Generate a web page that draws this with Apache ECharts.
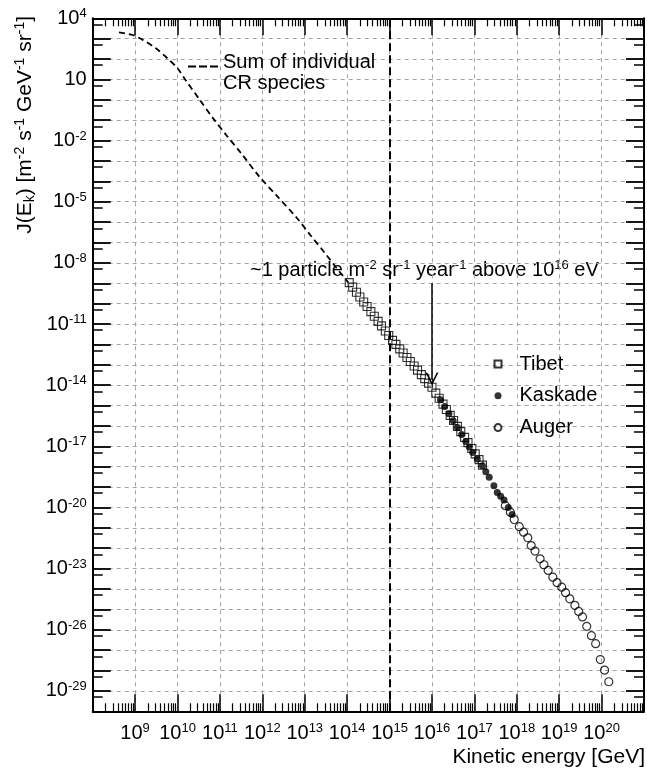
<!DOCTYPE html>
<html><head><meta charset="utf-8">
<script src="https://cdn.jsdelivr.net/npm/echarts/dist/echarts.min.js"></script>
<style>html,body{margin:0;padding:0;background:#fff}#c{width:647px;height:770px}</style>
</head><body><div id="c"></div>
<script>
// ---- data (log10 values) ----
const sumLogE = [8.62, 8.94, 9.18, 9.49, 9.76, 10.0, 10.19, 10.5, 10.84, 11.15, 11.5, 11.93, 12.36, 12.82, 13.13, 13.48, 13.75, 14.03];
const sumLogJ = [3.31, 3.18, 2.94, 2.53, 2.04, 1.55, 0.97, 0.07, -0.91, -1.73, -2.62, -3.77, -4.75, -5.81, -6.63, -7.53, -8.25, -8.97];

const tibetLogE = [14.05, 14.13, 14.22, 14.30, 14.39, 14.47, 14.56, 14.64, 14.73, 14.81, 14.90, 14.98, 15.07, 15.15, 15.24, 15.32, 15.41, 15.49, 15.58, 15.66, 15.75, 15.83, 15.92, 16.00, 16.09, 16.17, 16.26, 16.34, 16.43, 16.51, 16.60, 16.68, 16.77, 16.85, 16.94, 17.02, 17.11, 17.19];
const tibetLogJ = [-8.97, -9.19, -9.44, -9.67, -9.92, -10.14, -10.39, -10.62, -10.87, -11.09, -11.34, -11.56, -11.80, -12.00, -12.22, -12.42, -12.64, -12.84, -13.06, -13.26, -13.48, -13.68, -13.90, -14.10, -14.39, -14.64, -14.93, -15.19, -15.48, -15.73, -16.02, -16.28, -16.56, -16.82, -17.11, -17.37, -17.65, -17.92];

const kaskadeLogE = [16.20, 16.30, 16.40, 16.50, 16.60, 16.70, 16.80, 16.88, 16.96, 17.07, 17.19, 17.27, 17.35, 17.46, 17.54, 17.62, 17.70, 17.80, 17.89];
const kaskadeLogJ = [-14.72, -15.05, -15.40, -15.74, -16.08, -16.42, -16.76, -17.03, -17.30, -17.62, -17.95, -18.25, -18.52, -18.93, -19.26, -19.45, -19.63, -20.00, -20.35];

const augerLogE = [17.73, 17.85, 17.94, 18.06, 18.16, 18.26, 18.34, 18.43, 18.55, 18.64, 18.74, 18.85, 18.95, 19.06, 19.15, 19.25, 19.37, 19.46, 19.55, 19.65, 19.76, 19.86, 19.97, 20.07, 20.17];
const augerLogJ = [-19.91, -20.23, -20.59, -20.94, -21.21, -21.49, -21.87, -22.14, -22.52, -22.81, -23.09, -23.42, -23.69, -23.91, -24.18, -24.48, -24.80, -25.10, -25.37, -25.83, -26.29, -26.68, -27.46, -27.98, -28.55];

// axis ranges / tick labels (decade exponents)
const xRangeExp = [8, 21];
const yRangeExp = [-30, 4];
const xLabelExps = [9, 10, 11, 12, 13, 14, 15, 16, 17, 18, 19, 20];
const yLabelExps = [4, 1, -2, -5, -8, -11, -14, -17, -20, -23, -26, -29];
const kneeE = 1e15;
const arrowE = 1e16, arrowFromJ = 1e-9, arrowToJ = 2e-14;

const names = { sum: 'Sum of individual CR species', tibet: 'Tibet', kaskade: 'Kaskade', auger: 'Auger' };

// ---- build ----
const FONT = 'Liberation Sans';
const toPts = (E, J) => E.map((e, i) => [Math.pow(10, e), Math.pow(10, J[i])]);

const xMinor = [];
for (let n = xRangeExp[0]; n < xRangeExp[1]; n++) for (let k = 2; k <= 9; k++) xMinor.push(n + Math.log10(k));
const yMinor = [];
for (let n = yRangeExp[0]; n < yRangeExp[1]; n++) yMinor.push(n + Math.log10(5));

const rich = {
  b: { fontSize: 20, fontFamily: FONT, color: '#000', lineHeight: 22 },
  s: { fontSize: 13, fontFamily: FONT, color: '#000', lineHeight: 11, verticalAlign: 'top' }
};
const expLabel = e => e === 1 ? '{b|10}' : '{b|10}{s|' + e + '}';

const GRID = { left: 92.7, top: 18.3, width: 558.8, height: 693 };
const black = { color: '#000', width: 2 };

function valAxis(min, max, pos, opts) {
  return Object.assign({
    type: 'value', min: min, max: max, position: pos, gridIndex: 0,
    axisLine: { show: false, onZero: false },
    axisTick: { show: false },
    axisLabel: { show: false },
    splitLine: { show: false }
  }, opts);
}
const xMajorTick = { show: true, inside: true, length: 17, lineStyle: { color: '#000', width: 1.5 } };
const xMinorTick = { show: true, inside: true, length: 8, customValues: xMinor, lineStyle: { color: '#000', width: 1.2 } };
const yMajorTick = { show: true, inside: true, length: 18, lineStyle: { color: '#000', width: 1.8 } };
const yMinorTick = { show: true, inside: true, length: 10, customValues: yMinor, lineStyle: { color: '#000', width: 1.5 } };
const gridLine = { show: true, lineStyle: { color: '#a3a3a3', width: 1, type: [4, 4] } };

const dashIcon = 'path://M0,0 H8 V2 H0 Z M11,0 H19 V2 H11 Z M22,0 H30 V2 H22 Z';

const option = {
  animation: false,
  backgroundColor: '#fff',
  textStyle: { fontFamily: FONT },
  grid: GRID,
  xAxis: [
    { type: 'log', logBase: 10, min: Math.pow(10, xRangeExp[0]), max: Math.pow(10, xRangeExp[1]), show: false, gridIndex: 0 },
    valAxis(xRangeExp[0], xRangeExp[1], 'bottom', {
      interval: 1,
      axisLine: { show: true, onZero: false, lineStyle: black },
      axisTick: xMajorTick, splitLine: gridLine,
      axisLabel: { show: true, margin: 11, rich: rich,
        formatter: v => xLabelExps.indexOf(v) >= 0 ? expLabel(v) : '' }
    }),
    valAxis(xRangeExp[0], xRangeExp[1], 'top', {
      interval: 1, axisLine: { show: true, onZero: false, lineStyle: black }, axisTick: xMajorTick
    }),
    valAxis(xRangeExp[0], xRangeExp[1], 'bottom', { axisTick: xMinorTick }),
    valAxis(xRangeExp[0], xRangeExp[1], 'top', { axisTick: xMinorTick })
  ],
  yAxis: [
    { type: 'log', logBase: 10, min: Math.pow(10, yRangeExp[0]), max: Math.pow(10, yRangeExp[1]), show: false, gridIndex: 0 },
    valAxis(yRangeExp[0], yRangeExp[1], 'left', {
      interval: 1,
      axisLine: { show: true, onZero: false, lineStyle: black },
      axisTick: yMajorTick, splitLine: gridLine,
      axisLabel: { show: true, margin: 6, rich: rich, align: 'right',
        formatter: v => yLabelExps.indexOf(v) >= 0 ? expLabel(v) : '' }
    }),
    valAxis(yRangeExp[0], yRangeExp[1], 'right', {
      interval: 1, axisLine: { show: true, onZero: false, lineStyle: black }, axisTick: yMajorTick
    }),
    valAxis(yRangeExp[0], yRangeExp[1], 'left', { axisTick: yMinorTick }),
    valAxis(yRangeExp[0], yRangeExp[1], 'right', { axisTick: yMinorTick })
  ],
  legend: [
    {
      data: [{ name: names.sum, icon: dashIcon }], left: 188, top: 43.5, padding: 0, selectedMode: false,
      itemWidth: 30, itemHeight: 2,
      formatter: () => '{e| }\n{a|Sum of individual}\n{a|CR species}',
      textStyle: {
        fontSize: 20, fontFamily: FONT, color: '#000',
        rich: {
          e: { fontSize: 4, lineHeight: 12 },
          a: { fontSize: 20, fontFamily: FONT, color: '#000', lineHeight: 21 }
        }
      }
    },
    {
      data: [names.tibet, names.kaskade, names.auger], orient: 'vertical',
      left: 493.5, top: 353, padding: 0, itemGap: 9.8, selectedMode: false,
      itemWidth: 7, itemHeight: 7,
      formatter: n => '{g|}' + n,
      textStyle: { fontSize: 20, fontFamily: FONT, color: '#000', lineHeight: 22,
        rich: { g: { width: 13 } } }
    }
  ],
  series: [
    {
      name: names.sum, type: 'line', xAxisIndex: 0, yAxisIndex: 0,
      data: toPts(sumLogE, sumLogJ), symbol: 'none', smooth: 0.3,
      lineStyle: { color: '#000', width: 1.8, type: [6, 4] },
      itemStyle: { color: '#000' },
      markLine: {
        silent: true, symbol: ['none', 'none'], label: { show: false },
        lineStyle: { color: '#000', width: 2, type: [8, 4] },
        data: [{ xAxis: kneeE }]
      }
    },
    {
      name: names.tibet, type: 'scatter', xAxisIndex: 0, yAxisIndex: 0,
      data: toPts(tibetLogE, tibetLogJ), symbol: 'rect', symbolSize: 8,
      itemStyle: { color: 'rgba(255,255,255,0)', borderColor: '#000', borderWidth: 1.1 },
      markLine: {
        silent: true, label: { show: false },
        symbol: ['none', 'path://M5,0 L10,12 L8.7,12 L5,3.2 L1.3,12 L0,12 Z'],
        symbolSize: 13,
        lineStyle: { color: '#000', width: 1.5, type: 'solid' },
        data: [[{ coord: [arrowE, arrowFromJ] }, { coord: [arrowE, arrowToJ] }]]
      }
    },
    {
      name: names.kaskade, type: 'scatter', xAxisIndex: 0, yAxisIndex: 0,
      data: toPts(kaskadeLogE, kaskadeLogJ), symbol: 'circle', symbolSize: 7,
      itemStyle: { color: '#000' }
    },
    {
      name: names.auger, type: 'scatter', xAxisIndex: 0, yAxisIndex: 0,
      data: toPts(augerLogE, augerLogJ), symbol: 'circle', symbolSize: 8,
      itemStyle: { color: 'rgba(255,255,255,0)', borderColor: '#000', borderWidth: 1.2 }
    }
  ],
  graphic: [
    {
      type: 'text', x: 645, y: 757, silent: true,
      style: { text: 'Kinetic energy [GeV]', font: '21px "Liberation Sans"', fill: '#000', align: 'right', verticalAlign: 'middle' }
    },
    {
      type: 'text', x: 25, y: 16, rotation: Math.PI / 2, silent: true,
      style: {
        text: '{t|J(E}{sb|k}{t|) [m}{sp|-2}{t| s}{sp|-1}{t| GeV}{sp|-1}{t| sr}{sp|-1}{t|]}',
        align: 'right', verticalAlign: 'middle', fill: '#000',
        rich: {
          t: { fontSize: 21, fontFamily: FONT, lineHeight: 24, fill: '#000' },
          sp: { fontSize: 14, fontFamily: FONT, lineHeight: 10, verticalAlign: 'top', fill: '#000' },
          sb: { fontSize: 14, fontFamily: FONT, lineHeight: 10, verticalAlign: 'bottom', fill: '#000' }
        }
      }
    },
    {
      type: 'text', x: 250, y: 270, silent: true,
      style: {
        text: '{t|~1 particle m}{s|-2}{t| sr}{s|-1}{t| year}{s|-1}{t| above 10}{s|16}{t| eV}',
        align: 'left', verticalAlign: 'middle', fill: '#000',
        rich: {
          t: { fontSize: 20, fontFamily: FONT, lineHeight: 22, fill: '#000' },
          s: { fontSize: 13, fontFamily: FONT, lineHeight: 10, verticalAlign: 'top', fill: '#000' }
        }
      }
    }
  ]
};

const chart = echarts.init(document.getElementById('c'), null, { renderer: 'canvas', width: 647, height: 770 });
chart.setOption(option);
</script>
</body></html>
